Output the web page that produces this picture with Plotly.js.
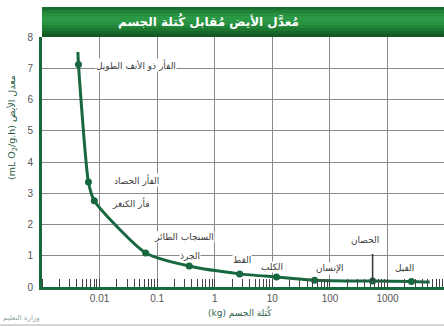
<!DOCTYPE html>
<html><head><meta charset="utf-8">
<script src="https://cdn.plot.ly/plotly-3.0.1.min.js"></script>
<style>html,body{margin:0;padding:0;background:#fff}#c{width:444px;height:327px}</style>
</head><body><div id="c"></div>
<script>
// Animals (labels), body mass (kg), metabolic rate (mL O2/g.h)
const animals = ["الفأر ذو الأنف الطويل","الفأر الحصاد","فأر الكنغر","السنجاب الطائر","الجرذ","القط","الكلب","الإنسان","الحصان","الفيل"];
const massKg = [0.0043, 0.0064, 0.0081, 0.063, 0.36, 2.7, 11.8, 54, 550, 2600];
const rate = [7.12, 3.36, 2.76, 1.09, 0.67, 0.42, 0.32, 0.22, 0.19, 0.18];
// fitted curve as drawn (ends)
const curveX = [0.0042].concat(massKg, [5400]);
const curveY = [7.52].concat(rate, [0.16]);
const xTickVals = [0.01, 0.1, 1, 10, 100, 1000];
const xTickText = ["0.01","0.1","1","10","100","1000"];
const titleText = "مُعدَّل الأيض مُقابل كُتلة الجسم";
const xTitle = "(kg) كُتلة الجسم";
const yTitle = "(mL O<sub>2</sub>/g.h) معدل الأيض";

// label offsets (px) relative to point
const offs = [[58,0],[48,-2],[37,2],[38,-16],[1,-10],[2,-14],[-5,-10],[15,-12],[-8,-41],[-7,-13]];

const green = "#17673f";
const traces = [
  {x: curveX, y: curveY, type: "scatter", mode: "lines", line: {color: green, width: 3, shape: "spline", smoothing: 0.6}, hoverinfo: "skip"},
  {x: massKg, y: rate, type: "scatter", mode: "markers", marker: {color: green, size: 7}}
];

const ann = animals.map((a, i) => ({
  x: Math.log10(massKg[i]), y: rate[i], xref: "x", yref: "y", text: a, showarrow: false,
  xanchor: "center", yanchor: "middle",
  xshift: offs[i][0], yshift: -offs[i][1], bgcolor: "#fff", borderpad: 0,
  font: {family: "DejaVu Sans", size: 9, color: "#3a3a3a"}
}));
// horse pointer line
ann.push({x: Math.log10(massKg[8]), y: rate[8], xref: "x", yref: "y", text: " ", showarrow: true,
  arrowhead: 0, arrowwidth: 1.5, arrowcolor: "#333", ax: 0, ay: -34, standoff: 0});
const px = v => (v - 42) / 402, py = v => (287 - v) / 250;
ann.push({x: px(208), y: py(21), xref: "paper", yref: "paper", xanchor: "center", yanchor: "middle",
  text: "<b>" + titleText + "</b>", showarrow: false,
  font: {family: "DejaVu Sans", size: 12, color: "#fff"}});
ann.push({x: px(240), y: py(312), xref: "paper", yref: "paper", xanchor: "center", yanchor: "middle",
  text: xTitle, showarrow: false,
  font: {family: "DejaVu Sans", size: 9, color: "#2f5f47"}});
ann.push({x: px(12), y: py(128), xref: "paper", yref: "paper", xanchor: "center", yanchor: "middle",
  text: yTitle, textangle: -90, showarrow: false,
  font: {family: "DejaVu Sans", size: 9.5, color: "#1f5a3e"}});
ann.push({x: px(1), y: py(318), xref: "paper", yref: "paper", xanchor: "left", yanchor: "middle",
  text: "وزارة التعليم", showarrow: false,
  font: {family: "DejaVu Sans", size: 7, color: "#8fa6a6"}});

// header band (gradient approximated by stacked strips)
const bandCols = ["#176e2e","#1f8236","#26903f","#2a9844","#2a9844","#27913f","#228638","#1c7731","#17662a","#145a25"];
const shapes = bandCols.map((c, i) => {
  const top = 7 + i * 3, bot = Math.min(37, top + 3);
  return {type: "rect", xref: "paper", yref: "paper", x0: 0, x1: 1, y0: py(bot), y1: py(top), fillcolor: c, line: {width: 0}, layer: "below"};
});
shapes.push({type: "line", xref: "paper", yref: "paper", x0: px(0), x1: 1, y0: py(325), y1: py(325), line: {color: "#aaa", width: 1}});

const layout = {
  width: 444, height: 327, margin: {l: 42, r: 0, t: 37, b: 40},
  paper_bgcolor: "#fff", plot_bgcolor: "#fff", showlegend: false,
  font: {family: "Liberation Sans, Arial, sans-serif", size: 10, color: "#444"},
  xaxis: {type: "log", range: [-3, 3.98], tickvals: xTickVals, ticktext: xTickText, ticks: "",
    showgrid: true, gridcolor: "#8a8a8a", gridwidth: 1, zeroline: false,
    showline: true, linecolor: green, linewidth: 3,
    tickfont: {size: 10, color: "#555"},
    minor: {ticks: "inside", ticklen: 8, tickcolor: "#444", tickwidth: 1, showgrid: false, dtick: "D1"}},
  yaxis: {range: [0, 8], dtick: 1, ticks: "", showgrid: true, gridcolor: "#8a8a8a", gridwidth: 1, zeroline: false,
    showline: true, linecolor: green, linewidth: 3, tickfont: {size: 10, color: "#555"}, ticklabelstandoff: 4},
  shapes: shapes,
  annotations: ann
};
Plotly.newPlot("c", traces, layout, {staticPlot: true});
</script></body></html>
